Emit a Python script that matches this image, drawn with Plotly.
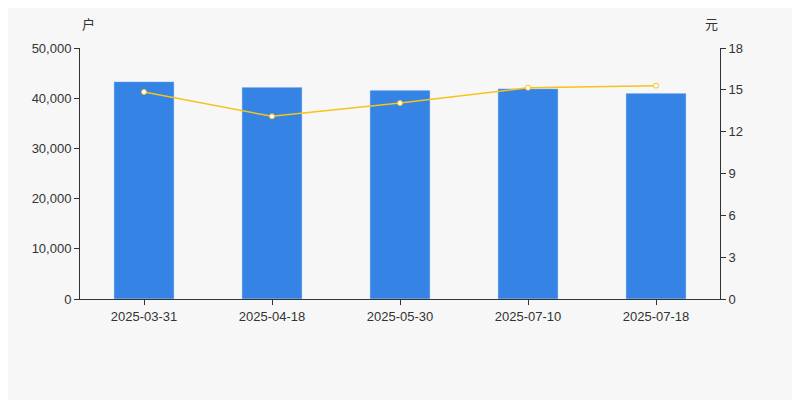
import plotly.graph_objects as go

dates = ["2025-03-31", "2025-04-18", "2025-05-30", "2025-07-10", "2025-07-18"]
holders = [43300, 42200, 41600, 41900, 41000]
price = [14.85, 13.1, 14.05, 15.15, 15.3]

fig = go.Figure()
fig.add_trace(go.Bar(x=dates, y=holders, marker_color="#3583e4", width=0.47, yaxis="y"))
fig.add_trace(go.Scatter(x=dates, y=price, yaxis="y2", mode="lines+markers",
                         line=dict(color="#f7c21a", width=1.5),
                         marker=dict(size=5, color="white", line=dict(color="#f7c21a", width=1))))
fig.update_layout(
    width=792, height=392, showlegend=False,
    paper_bgcolor="#f7f7f7", plot_bgcolor="#f7f7f7",
    margin=dict(l=72, r=80, t=40, b=101),
    font=dict(family="Liberation Sans, Arial, sans-serif", size=13, color="#333"),
    xaxis=dict(type="category", showline=True, linecolor="#333", ticks="outside",
               ticklen=5, tickcolor="#333", showgrid=False),
    yaxis=dict(range=[0, 50000], dtick=10000, tickformat=",", showline=True, linecolor="#333",
               ticks="outside", ticklen=5, tickcolor="#333", showgrid=False, zeroline=False),
    yaxis2=dict(range=[0, 18], dtick=3, overlaying="y", side="right", showline=True,
                linecolor="#333", ticks="outside", ticklen=5, tickcolor="#333",
                showgrid=False, zeroline=False),
)
fig.layout.annotations = [
    dict(text="户", xref="paper", yref="paper", x=0.0, y=1.05, yanchor="bottom", showarrow=False,
         font=dict(size=13, family="Noto Sans CJK SC")),
    dict(text="元", xref="paper", yref="paper", x=1.0, y=1.05, yanchor="bottom", showarrow=False,
         font=dict(size=13, family="Noto Sans CJK SC")),
]
fig.write_html("out.html")
